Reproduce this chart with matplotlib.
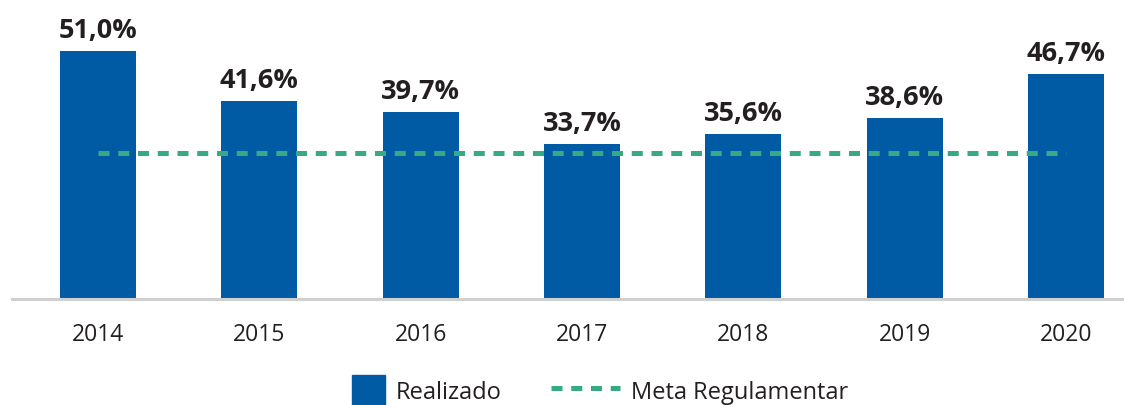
import matplotlib
matplotlib.use("Agg")
import matplotlib.pyplot as plt
from matplotlib.patches import Rectangle
from matplotlib.lines import Line2D
from matplotlib.legend_handler import HandlerPatch

anos = ["2014", "2015", "2016", "2017", "2018", "2019", "2020"]
realizado = [51.0, 41.6, 39.7, 33.7, 35.6, 38.6, 46.7]
meta = [32.0] * len(anos)

AZUL = "#005ba4"; VERDE = "#36a985"; INK = "#231f20"; CINZA = "#cfcfcf"
plt.rcParams["font.family"] = ["Open Sans", "DejaVu Sans"]

fig = plt.figure(figsize=(11.24, 4.05), dpi=100)
ax = fig.add_axes([12/1124, 106/405, 1112/1124, 299/405])
x = list(range(len(anos)))
ax.bar(x, realizado, width=0.471, color=AZUL, zorder=2)
ax.plot(x, meta, color=VERDE, lw=3.6, linestyle=(0, (2.2, 1.75)), dash_capstyle="butt", zorder=3)
for xi, v in zip(x, realizado):
    ax.annotate(f"{v:.1f}".replace(".", ",") + "%", (xi, v), xytext=(0, 5), textcoords="offset points",
                ha="center", va="bottom", fontsize=19.5, fontweight="bold", color=INK)

ax.set_xlim(-0.533, 6.36); ax.set_ylim(5, 5 + 299/5.4)
ax.set_xticks(x); ax.set_xticklabels(anos, fontsize=16.5, color=INK)
ax.tick_params(axis="x", length=0, pad=17)
ax.set_yticks([])
for s in ("top", "right", "left"): ax.spines[s].set_visible(False)
ax.spines["bottom"].set_color(CINZA); ax.spines["bottom"].set_linewidth(2.2); ax.spines["bottom"].set_zorder(4)

def quadrado(legend, orig_handle, xdescent, ydescent, width, height, fontsize):
    w = 33 * 72 / 100
    return Rectangle((-xdescent + width - w, -ydescent + (height - w) / 2), w, w)

h1 = Rectangle((0, 0), 1, 1, color=AZUL)
h2 = Line2D([], [], color=VERDE, lw=3.6, linestyle=(0, (2.2, 1.75)), dash_capstyle="butt")
fig.legend([h1, h2], ["Realizado", "Meta Regulamentar"], loc="center left",
           bbox_to_anchor=(315/1124, 14/405), ncol=2, frameon=False, fontsize=17,
           handlelength=2.95, handleheight=1.45, handletextpad=0.45, columnspacing=2.1,
           borderpad=0, borderaxespad=0, labelcolor=INK,
           handler_map={Rectangle: HandlerPatch(patch_func=quadrado)})

fig.savefig("out.png", dpi=100, facecolor="white")
